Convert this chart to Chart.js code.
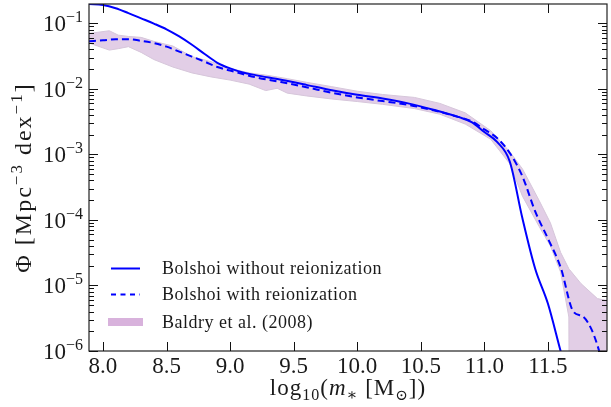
<!DOCTYPE html>
<html>
<head>
<meta charset="utf-8">
<script src="https://cdn.jsdelivr.net/npm/chart.js@4"></script>
<style>
  html, body { margin: 0; padding: 0; background: #fff; }
</style>
</head>
<body>
<canvas id="smf" width="611" height="407"></canvas>
<script>
//// data
// Bolshoi model stellar mass functions
const bolshoiMass = [7.89, 8.0, 8.1, 8.2, 8.3, 8.4, 8.5, 8.6, 8.7, 8.8, 8.9, 9.0, 9.1, 9.2, 9.4, 9.6, 9.8, 10.0,
  10.2, 10.4, 10.6, 10.8, 10.9, 11.0, 11.1, 11.2, 11.3, 11.4, 11.5, 11.6, 11.7, 11.78, 11.9, 11.96];
const phiNoReion = [0.197, 0.19, 0.17, 0.143, 0.119, 0.099, 0.081, 0.063, 0.047, 0.034, 0.025, 0.0205, 0.0178, 0.0162, 0.0138, 0.0115, 0.0095, 0.0081,
  0.0071, 0.006, 0.0048, 0.0037, 0.0031, 0.0022, 0.00155, 0.00078, 1.05e-4, 1.8e-5, 5.3e-6, 1.0e-6, 2e-7, 1e-7, 5e-8, 3e-8];
const phiReion = [0.053, 0.055, 0.057, 0.057, 0.054, 0.050, 0.044, 0.037, 0.031, 0.026, 0.0215, 0.019, 0.0168, 0.0150, 0.0127, 0.0106, 0.0087, 0.0074,
  0.0065, 0.0057, 0.0047, 0.0037, 0.0032, 0.0024, 0.00178, 0.00105, 4.6e-4, 1.35e-4, 5.2e-5, 1.9e-5, 4.0e-6, 3.3e-6, 1.05e-6, 3e-7];

// Baldry et al. (2008) band
const baldryMass = [7.89, 8.05, 8.12, 8.2, 8.3, 8.4, 8.55, 8.7, 8.85, 9.0, 9.15, 9.28, 9.37, 9.45, 9.6, 9.8, 10.0, 10.2,
  10.45, 10.65, 10.85, 11.05, 11.2, 11.3, 11.43, 11.52, 11.6, 11.665, 11.67, 11.76, 11.89, 11.965];
const baldryLow = [0.050, 0.039, 0.041, 0.044, 0.036, 0.028, 0.0215, 0.0175, 0.0152, 0.0136, 0.0118, 0.0094, 0.0102, 0.0086, 0.0078, 0.0070, 0.0064, 0.0058,
  0.0050, 0.0041, 0.0029, 0.0017, 7.2e-4, 2.3e-4, 8e-5, 4e-5, 1.6e-5, 3.3e-6, 1e-8, 1e-8, 1e-8, 1e-8];
const baldryHigh = [0.070, 0.077, 0.066, 0.063, 0.061, 0.053, 0.045, 0.031, 0.026, 0.0205, 0.0175, 0.0162, 0.0152, 0.0143, 0.0126, 0.0108, 0.0092, 0.0082,
  0.0074, 0.0060, 0.0043, 0.0023, 1.1e-3, 6e-4, 2e-4, 9e-5, 3.2e-5, 1.8e-5, 1.75e-5, 1.07e-5, 6.3e-6, 5.9e-6];

// axes
const xTicks = [8.0, 8.5, 9.0, 9.5, 10.0, 10.5, 11.0, 11.5];
const yExponents = [-6, -5, -4, -3, -2, -1];
const legendLabels = ['Bolshoi without reionization', 'Bolshoi with reionization', 'Baldry et al. (2008)'];

//// styles
const serif = '"Liberation Serif", "DejaVu Serif", serif';
const ink = '#1a1a1a';
const blue = '#0000ff';
const bandFill = '#e2cee6';
const bandEdge = '#d6c6da';
const bandLegend = '#d8b2dc';

function toPoints(xs, ys) {
  return xs.map((x, i) => ({ x: x, y: ys[i] }));
}

// draw a run of text pieces (font + vertical shift), starting at x
function drawPieces(ctx, pieces, x, y) {
  for (const p of pieces) {
    ctx.font = p.font;
    ctx.fillText(p.t, x, y + (p.dy || 0));
    x += ctx.measureText(p.t).width;
  }
}
function piecesWidth(ctx, pieces) {
  let w = 0;
  for (const p of pieces) { ctx.font = p.font; w += ctx.measureText(p.t).width; }
  return w;
}

const decorations = {
  id: 'decorations',
  afterDraw(chart) {
    const ctx = chart.ctx;
    const a = chart.chartArea;
    const xs = chart.scales.x, ys = chart.scales.y;
    ctx.save();

    // frame
    ctx.strokeStyle = '#222';
    ctx.lineWidth = 1.2;
    ctx.strokeRect(a.left, a.top, a.right - a.left, a.bottom - a.top);

    // inward ticks
    ctx.lineWidth = 1;
    ctx.strokeStyle = '#111';
    ctx.beginPath();
    xTicks.forEach(v => {
      const px = Math.round(xs.getPixelForValue(v)) + 0.5;
      ctx.moveTo(px, a.bottom); ctx.lineTo(px, a.bottom - 9);
      ctx.moveTo(px, a.top); ctx.lineTo(px, a.top + 9);
    });
    for (let e = -7; e <= 0; e++) {
      for (let m = 1; m <= 9; m++) {
        const v = m * Math.pow(10, e);
        if (v < ys.min * 0.999 || v > ys.max) continue;
        const py = Math.round(ys.getPixelForValue(v)) + 0.5;
        const len = m === 1 ? 9 : 5;
        ctx.moveTo(a.left, py); ctx.lineTo(a.left + len, py);
        ctx.moveTo(a.right, py); ctx.lineTo(a.right - len, py);
      }
    }
    ctx.stroke();

    // y tick labels 10^n
    ctx.fillStyle = ink;
    ctx.textBaseline = 'alphabetic';
    ctx.textAlign = 'left';
    yExponents.forEach(e => {
      const py = ys.getPixelForValue(Math.pow(10, e));
      const pieces = [
        { t: '10', font: '23px ' + serif },
        { t: '\u2212' + Math.abs(e), font: '16px ' + serif, dy: -9 }
      ];
      const w = piecesWidth(ctx, pieces);
      drawPieces(ctx, pieces, a.left - 6 - w, py + 8);
    });

    // x title
    ctx.letterSpacing = '1px';
    const xTitle = [
      { t: 'log', font: '23px ' + serif },
      { t: '10', font: '16px ' + serif, dy: 5 },
      { t: '(', font: '23px ' + serif },
      { t: 'm', font: 'italic 23px ' + serif },
      { t: '\u2217', font: '16px ' + serif, dy: 5 },
      { t: ' [M', font: '23px ' + serif },
      { t: '\u2299', font: '15px ' + serif, dy: 5 },
      { t: '])', font: '23px ' + serif }
    ];
    const xw = piecesWidth(ctx, xTitle);
    drawPieces(ctx, xTitle, (a.left + a.right) / 2 - xw / 2, 395);

    // y title (rotated)
    ctx.letterSpacing = '2px';
    const yTitle = [
      { t: '\u03a6 [Mpc', font: '24px ' + serif },
      { t: '\u22123', font: '17px ' + serif, dy: -9 },
      { t: ' dex', font: '24px ' + serif },
      { t: '\u22121', font: '17px ' + serif, dy: -9 },
      { t: ']', font: '24px ' + serif }
    ];
    const yw = piecesWidth(ctx, yTitle);
    ctx.save();
    ctx.translate(31, (a.top + a.bottom) / 2);
    ctx.rotate(-Math.PI / 2);
    drawPieces(ctx, yTitle, -yw / 2, 0);
    ctx.restore();

    // legend
    const ds = chart.data.datasets;
    const rows = [
      { ds: ds[0], y: 268 },
      { ds: ds[1], y: 294 },
      { ds: ds[3], y: 322, band: true }
    ];
    rows.forEach((r, i) => {
      const x0 = a.left + 22;
      if (r.band) {
        ctx.fillStyle = bandLegend;
        ctx.fillRect(x0 - 3, r.y - 4, 35, 8);
      } else {
        ctx.strokeStyle = r.ds.borderColor;
        ctx.lineWidth = 2;
        ctx.setLineDash(r.ds.borderDash ? [5, 4.5] : []);
        ctx.beginPath();
        ctx.moveTo(x0, r.y + 0.5); ctx.lineTo(x0 + 29, r.y + 0.5);
        ctx.stroke();
        ctx.setLineDash([]);
      }
      ctx.fillStyle = ink;
      ctx.font = '18px ' + serif;
      ctx.letterSpacing = '0.5px';
      ctx.textBaseline = 'middle';
      ctx.fillText(legendLabels[i], a.left + 73, r.y + 1);
    });
    ctx.restore();
  }
};

const ctx = document.getElementById('smf').getContext('2d');
new Chart(ctx, {
  type: 'line',
  data: {
    datasets: [
      {
        label: legendLabels[0],
        data: toPoints(bolshoiMass, phiNoReion),
        borderColor: blue, borderWidth: 2, pointRadius: 0, fill: false, cubicInterpolationMode: 'monotone'
      },
      {
        label: legendLabels[1],
        data: toPoints(bolshoiMass, phiReion),
        borderColor: blue, borderWidth: 2, borderDash: [7, 4], pointRadius: 0, fill: false, cubicInterpolationMode: 'monotone'
      },
      {
        label: 'Baldry lower',
        data: toPoints(baldryMass, baldryLow),
        borderColor: bandEdge, borderWidth: 1, pointRadius: 0, fill: false, tension: 0
      },
      {
        label: legendLabels[2],
        data: toPoints(baldryMass, baldryHigh),
        borderColor: bandEdge, borderWidth: 1, pointRadius: 0, fill: '-1', backgroundColor: bandFill, tension: 0
      }
    ]
  },
  options: {
    responsive: false,
    animation: false,
    devicePixelRatio: 1,
    layout: { padding: { top: 4, right: 4, left: 0, bottom: 0 } },
    plugins: {
      legend: { display: false },
      tooltip: { enabled: false }
    },
    scales: {
      x: {
        type: 'linear',
        min: 7.89,
        max: 11.965,
        grid: { display: false, drawTicks: false },
        border: { display: false },
        afterBuildTicks: s => { s.ticks = xTicks.map(v => ({ value: v })); },
        afterFit: s => { s.height = 56; },
        ticks: {
          font: { family: serif, size: 23 },
          color: ink,
          padding: 2,
          maxRotation: 0,
          autoSkip: false,
          callback: v => v.toFixed(1)
        }
      },
      y: {
        type: 'logarithmic',
        min: 1e-6,
        max: 0.197,
        grid: { display: false, drawTicks: false },
        border: { display: false },
        afterBuildTicks: s => { s.ticks = yExponents.map(e => ({ value: Math.pow(10, e) })); },
        afterFit: s => { s.width = 89; },
        ticks: { display: false }
      }
    }
  },
  plugins: [decorations]
});
</script>
</body>
</html>
